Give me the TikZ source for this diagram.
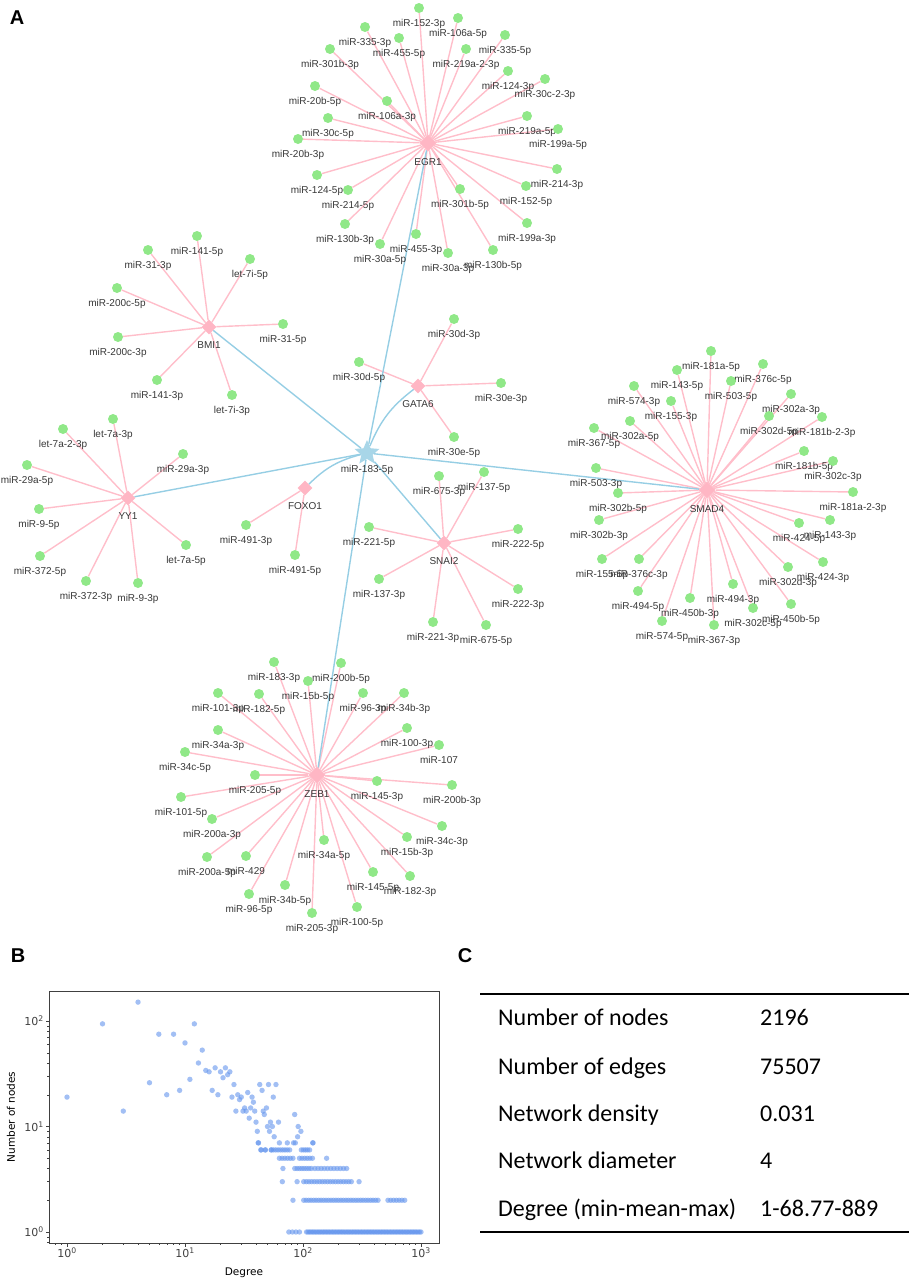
\documentclass[tikz,border=0pt]{standalone}
\usepackage{fontspec}
\setmainfont{Liberation Sans}
\newfontfamily\plotfont{DejaVu Sans}
\newfontfamily\tablefont{Carlito}
\usepackage{tikz}
\usetikzlibrary{shapes.geometric, positioning, calc}
\pgfdeclarelayer{edges}
\pgfsetlayers{edges,main}
\definecolor{mirgreen}{RGB}{144,232,136}
\definecolor{tfpink}{RGB}{255,182,196}
\definecolor{edgepink}{RGB}{255,190,202}
\definecolor{edgeblue}{RGB}{150,206,228}
\definecolor{hubblue}{RGB}{168,214,232}
\definecolor{labelgray}{RGB}{55,55,55}
\definecolor{ptblue}{RGB}{100,149,237}

\begin{document}
\begin{tikzpicture}[x=1pt, y=-1pt,
    mir/.style={circle, fill=mirgreen, minimum size=10pt, inner sep=0pt},
    tf/.style={diamond, fill=tfpink, minimum size=15pt, inner sep=0pt},
    bigtf/.style={tf, minimum size=17pt},
    hub/.style={star, star points=5, star point ratio=2.2, fill=hubblue, minimum size=26pt, inner sep=0pt},
    tfedge/.style={draw=edgepink, line width=1.4pt},
    hubedge/.style={draw=edgeblue, line width=1.4pt},
    every label/.style={font=\fontsize{10}{12}\selectfont, text=labelgray, inner sep=0pt, text height=7.2pt, text depth=2.1pt},
    label distance=6pt,
    panel/.style={font=\bfseries\fontsize{20}{24}\selectfont},
    scat/.style={fill=ptblue, fill opacity=0.6},
    cell/.style={font=\tablefont\fontsize{24}{28}\selectfont, anchor=west, inner sep=0pt, text height=16pt, text depth=5pt}
]
\useasboundingbox (0,0) rectangle (913,1283);

\node[panel] (labA) at (17,18) {A};
\node[panel] (labB) at (18,956) {B};
\node[panel] (labC) at (465,956) {C};

\node[hub, label=below:miR-183-5p] (hub) at (367,453) {};

\node[bigtf, label=below:EGR1] (egr) at (428,143) {};
\node[mir, label=below:miR-152-3p] (egr-1) at (419,8) {};
\node[mir, label=below:miR-106a-5p] (egr-2) at (458,18) {};
\node[mir, label=below:miR-335-3p] (egr-3) at (365,27) {};
\node[mir, label=below:miR-455-5p] (egr-4) at (399,38) {};
\node[mir, label=below:miR-335-5p] (egr-5) at (505,35) {};
\node[mir, label=below:miR-301b-3p] (egr-6) at (330,49) {};
\node[mir, label=below:miR-219a-2-3p] (egr-7) at (466,49) {};
\node[mir, label=below:miR-124-3p] (egr-8) at (508,71) {};
\node[mir, label=below:miR-30c-2-3p] (egr-9) at (545,79) {};
\node[mir, label=below:miR-20b-5p] (egr-10) at (315,86) {};
\node[mir, label=below:miR-106a-3p] (egr-11) at (387,101) {};
\node[mir, label=below:miR-219a-5p] (egr-12) at (527,116) {};
\node[mir, label=below:miR-199a-5p] (egr-13) at (558,129) {};
\node[mir, label=below:miR-30c-5p] (egr-14) at (328,118) {};
\node[mir, label=below:miR-20b-3p] (egr-15) at (298,139) {};
\node[mir, label=below:miR-124-5p] (egr-16) at (317,175) {};
\node[mir, label=below:miR-214-5p] (egr-17) at (348,190) {};
\node[mir, label=below:miR-214-3p] (egr-18) at (557,169) {};
\node[mir, label=below:miR-152-5p] (egr-19) at (526,186) {};
\node[mir, label=below:miR-301b-5p] (egr-20) at (460,189) {};
\node[mir, label=below:miR-199a-3p] (egr-21) at (527,223) {};
\node[mir, label=below:miR-130b-3p] (egr-22) at (345,224) {};
\node[mir, label=below:miR-455-3p] (egr-23) at (416,234) {};
\node[mir, label=below:miR-30a-5p] (egr-24) at (380,244) {};
\node[mir, label=below:miR-30a-3p] (egr-25) at (448,253) {};
\node[mir, label=below:miR-130b-5p] (egr-26) at (493,250) {};

\node[tf, label=below:BMI1] (bmi) at (209,327) {};
\node[mir, label=below:miR-141-5p] (bmi-1) at (197,236) {};
\node[mir, label=below:miR-31-3p] (bmi-2) at (148,250) {};
\node[mir, label=below:let-7i-5p] (bmi-3) at (250,259) {};
\node[mir, label=below:miR-200c-5p] (bmi-4) at (117,288) {};
\node[mir, label=below:miR-31-5p] (bmi-5) at (283,324) {};
\node[mir, label=below:miR-200c-3p] (bmi-6) at (118,337) {};
\node[mir, label=below:miR-141-3p] (bmi-7) at (157,380) {};
\node[mir, label=below:let-7i-3p] (bmi-8) at (232,395) {};

\node[tf, label=below:YY1] (yy) at (128,498) {};
\node[mir, label=below:let-7a-3p] (yy-1) at (113,419) {};
\node[mir, label=below:let-7a-2-3p] (yy-2) at (63,429) {};
\node[mir, label=below:miR-29a-3p] (yy-3) at (183,454) {};
\node[mir, label=below:miR-29a-5p] (yy-4) at (27,465) {};
\node[mir, label=below:miR-9-5p] (yy-5) at (39,509) {};
\node[mir, label=below:let-7a-5p] (yy-6) at (186,545) {};
\node[mir, label=below:miR-372-5p] (yy-7) at (40,556) {};
\node[mir, label=below:miR-372-3p] (yy-8) at (86,581) {};
\node[mir, label=below:miR-9-3p] (yy-9) at (138,583) {};

\node[tf, label=below:GATA6] (gata) at (418,386) {};
\node[mir, label=below:miR-30d-3p] (gata-1) at (454,319) {};
\node[mir, label=below:miR-30d-5p] (gata-2) at (359,362) {};
\node[mir, label=below:miR-30e-3p] (gata-3) at (501,383) {};
\node[mir, label=below:miR-30e-5p] (gata-4) at (454,437) {};

\node[tf, label=below:FOXO1] (foxo) at (305,488) {};
\node[mir, label=below:miR-491-3p] (foxo-1) at (246,525) {};
\node[mir, label=below:miR-491-5p] (foxo-2) at (295,555) {};

\node[tf, label=below:SNAI2] (snai) at (444,543) {};
\node[mir, label=below:miR-675-3p] (snai-1) at (439,476) {};
\node[mir, label=below:miR-137-5p] (snai-2) at (484,472) {};
\node[mir, label=below:miR-221-5p] (snai-3) at (369,527) {};
\node[mir, label=below:miR-222-5p] (snai-4) at (518,529) {};
\node[mir, label=below:miR-137-3p] (snai-5) at (379,579) {};
\node[mir, label=below:miR-222-3p] (snai-6) at (518,589) {};
\node[mir, label=below:miR-221-3p] (snai-7) at (433,622) {};
\node[mir, label=below:miR-675-5p] (snai-8) at (486,625) {};

\node[bigtf, label=below:SMAD4] (smad) at (707,490) {};
\node[mir, label=below:miR-181a-5p] (smad-1) at (711,351) {};
\node[mir, label=below:miR-376c-5p] (smad-2) at (763,364) {};
\node[mir, label=below:miR-143-5p] (smad-3) at (677,370) {};
\node[mir, label=below:miR-503-5p] (smad-4) at (731,381) {};
\node[mir, label=below:miR-574-3p] (smad-5) at (634,386) {};
\node[mir, label=below:miR-155-3p] (smad-6) at (671,401) {};
\node[mir, label=below:miR-302a-3p] (smad-7) at (791,394) {};
\node[mir, label=below:miR-302d-5p] (smad-8) at (769,416) {};
\node[mir, label=below:miR-181b-2-3p] (smad-9) at (822,417) {};
\node[mir, label=below:miR-302a-5p] (smad-10) at (630,421) {};
\node[mir, label=below:miR-367-5p] (smad-11) at (594,428) {};
\node[mir, label=below:miR-181b-5p] (smad-12) at (804,451) {};
\node[mir, label=below:miR-302c-3p] (smad-13) at (833,461) {};
\node[mir, label=below:miR-503-3p] (smad-14) at (596,468) {};
\node[mir, label=below:miR-181a-2-3p] (smad-15) at (853,492) {};
\node[mir, label=below:miR-302b-5p] (smad-16) at (618,493) {};
\node[mir, label=below:miR-302b-3p] (smad-17) at (599,520) {};
\node[mir, label=below:miR-424-5p] (smad-18) at (799,523) {};
\node[mir, label=below:miR-143-3p] (smad-19) at (830,520) {};
\node[mir, label=below:miR-155-5p] (smad-20) at (602,559) {};
\node[mir, label=below:miR-376c-3p] (smad-21) at (639,559) {};
\node[mir, label=below:miR-424-3p] (smad-22) at (823,562) {};
\node[mir, label=below:miR-302d-3p] (smad-23) at (788,567) {};
\node[mir, label=below:miR-494-3p] (smad-24) at (733,584) {};
\node[mir, label=below:miR-494-5p] (smad-25) at (638,591) {};
\node[mir, label=below:miR-450b-3p] (smad-26) at (690,598) {};
\node[mir, label=below:miR-450b-5p] (smad-27) at (791,604) {};
\node[mir, label=below:miR-302c-5p] (smad-28) at (753,608) {};
\node[mir, label=below:miR-574-5p] (smad-29) at (662,621) {};
\node[mir, label=below:miR-367-3p] (smad-30) at (714,625) {};

\node[bigtf, label=below:ZEB1] (zeb) at (317,775) {};
\node[mir, label=below:miR-183-3p] (zeb-1) at (274,662) {};
\node[mir, label=below:miR-200b-5p] (zeb-2) at (341,663) {};
\node[mir, label=below:miR-15b-5p] (zeb-3) at (308,681) {};
\node[mir, label=below:miR-101-3p] (zeb-4) at (218,693) {};
\node[mir, label=below:miR-182-5p] (zeb-5) at (259,694) {};
\node[mir, label=below:miR-96-3p] (zeb-6) at (363,693) {};
\node[mir, label=below:miR-34b-3p] (zeb-7) at (404,693) {};
\node[mir, label=below:miR-34a-3p] (zeb-8) at (218,730) {};
\node[mir, label=below:miR-100-3p] (zeb-9) at (407,728) {};
\node[mir, label=below:miR-107] (zeb-10) at (439,745) {};
\node[mir, label=below:miR-34c-5p] (zeb-11) at (185,752) {};
\node[mir, label=below:miR-205-5p] (zeb-12) at (255,775) {};
\node[mir, label=below:miR-145-3p] (zeb-13) at (377,781) {};
\node[mir, label=below:miR-200b-3p] (zeb-14) at (452,785) {};
\node[mir, label=below:miR-101-5p] (zeb-15) at (181,797) {};
\node[mir, label=below:miR-200a-3p] (zeb-16) at (212,819) {};
\node[mir, label=below:miR-34c-3p] (zeb-17) at (442,826) {};
\node[mir, label=below:miR-15b-3p] (zeb-18) at (407,837) {};
\node[mir, label=below:miR-34a-5p] (zeb-19) at (324,840) {};
\node[mir, label=below:miR-200a-5p] (zeb-20) at (207,857) {};
\node[mir, label=below:miR-429] (zeb-21) at (246,856) {};
\node[mir, label=below:miR-145-5p] (zeb-22) at (373,872) {};
\node[mir, label=below:miR-182-3p] (zeb-23) at (410,876) {};
\node[mir, label=below:miR-96-5p] (zeb-24) at (249,894) {};
\node[mir, label=below:miR-34b-5p] (zeb-25) at (285,885) {};
\node[mir, label=below:miR-100-5p] (zeb-26) at (357,907) {};
\node[mir, label=below:miR-205-3p] (zeb-27) at (312,913) {};

\begin{pgfonlayer}{edges}
\foreach \i in {1,...,26} \draw[tfedge] (egr) -- (egr-\i);
\foreach \i in {1,...,8} \draw[tfedge] (bmi) -- (bmi-\i);
\foreach \i in {1,...,9} \draw[tfedge] (yy) -- (yy-\i);
\foreach \i in {1,...,4} \draw[tfedge] (gata) -- (gata-\i);
\foreach \i in {1,2} \draw[tfedge] (foxo) -- (foxo-\i);
\foreach \i in {1,...,8} \draw[tfedge] (snai) -- (snai-\i);
\foreach \i in {1,...,30} \draw[tfedge] (smad) -- (smad-\i);
\foreach \i in {1,...,27} \draw[tfedge] (zeb) -- (zeb-\i);
\foreach \t in {egr, bmi, yy, smad, zeb, snai} \draw[hubedge] (hub) -- (\t);
\draw[hubedge] (hub) to[bend left=15] (gata);
\draw[hubedge] (hub) to[bend right=15] (foxo);
\end{pgfonlayer}

\draw[line width=0.8pt, black!75] (49,991) rectangle (439,1243);
\foreach \k in {0,...,3} \draw[black!75] (67+118*\k,1243) -- ++(0,3.5) node[below, inner sep=1.5pt, font=\plotfont\fontsize{11}{13}\selectfont] (xt\k) {10\textsuperscript{\k}};
\foreach \k in {0,1,2} \foreach \m in {2,...,9} \draw[black!75] ({67+118*(\k+ln(\m)/ln(10))},1243) -- ++(0,2);
\foreach \m in {8,9} \draw[black!75] ({67+118*ln(\m/10)/ln(10)},1243) -- ++(0,2);
\foreach \k in {0,1,2} \draw[black!75] (49,1232-105.5*\k) -- ++(-3.5,0) node[left, inner sep=1.5pt, font=\plotfont\fontsize{11}{13}\selectfont] (yt\k) {10\textsuperscript{\k}};
\foreach \k in {0,1} \foreach \m in {2,...,9} \draw[black!75] (49,{1232-105.5*(\k+ln(\m)/ln(10))}) -- ++(-2,0);
\foreach \m in {8,9} \draw[black!75] (49,{1232-105.5*ln(\m/10)/ln(10)}) -- ++(-2,0);
\node[font=\plotfont\fontsize{10.5}{12}\selectfont] (xlab) at (244,1273) {Degree};
\node[font=\plotfont\fontsize{10.5}{12}\selectfont, rotate=90] (ylab) at (11,1117) {Number of nodes};

\foreach \d/\c in {1/19, 2/94, 3/14, 4/151, 5/26, 6/75, 7/20, 8/75, 9/22, 10/62, 11/28, 12/94, 13/40, 14/53, 15/34, 16/33, 17/22, 18/36, 19/20, 20/33, 21/29, 22/36, 23/31, 24/33, 25/19, 26/25, 27/14, 28/20, 29/18, 30/19, 31/14, 32/15, 33/14, 34/21, 35/12, 36/15, 37/19, 38/17, 39/14, 40/11, 41/9, 42/7, 43/25, 44/6, 45/22, 46/14, 47/13, 48/6, 49/15, 50/10, 51/25, 52/9, 53/11, 54/6, 55/10, 56/19, 57/8, 59/25, 62/11, 85/13, 90/8, 91/10, 96/9, 121/7}
  \fill[scat] ({67+118*ln(\d)/ln(10)},{1232-105.5*ln(\c)/ln(10)}) circle (2.7);
\foreach \lx/\c in {1.915/2, 1.825/3, 1.95/3, 2.475/3, 1.83/4, 2.2/5, 1.644/6, 1.68/6, 1.62/7, 1.80/7, 1.867/7, 1.92/7, 1.935/7, 2.085/7}
  \fill[scat] ({67+118*\lx},{1232-105.5*ln(\c)/ln(10)}) circle (2.7);
\foreach \c/\a/\b/\n in {1/1.88/1.97/3, 1/2.03/3.0/75, 2/2.006/2.636/30, 2/2.72/2.862/6, 3/2.006/2.41/18, 4/1.93/2.07/7, 4/2.10/2.37/10, 5/1.80/1.915/5, 5/1.97/2.08/5, 6/1.73/1.887/8, 6/1.986/2.056/4}
  \foreach \i in {0,...,\n}
    \fill[scat] ({67+118*(\a+(\b-\a)*\i/\n)},{1232-105.5*ln(\c)/ln(10)}) circle (2.7);

\draw[line width=2.5pt] (480,994) -- (909,994);
\draw[line width=2.5pt] (480,1232) -- (909,1232);
\node[cell] (k1) at (498,1020) {Number of nodes};
\node[cell] (v1) at (760,1020) {2196};
\node[cell] (k2) at (498,1069) {Number of edges};
\node[cell] (v2) at (760,1069) {75507};
\node[cell] (k3) at (498,1116) {Network density};
\node[cell] (v3) at (760,1116) {0.031};
\node[cell] (k4) at (498,1163) {Network diameter};
\node[cell] (v4) at (760,1163) {4};
\node[cell] (k5) at (498,1211) {Degree (min-mean-max)};
\node[cell] (v5) at (760,1211) {1-68.77-889};
\end{tikzpicture}
\end{document}
